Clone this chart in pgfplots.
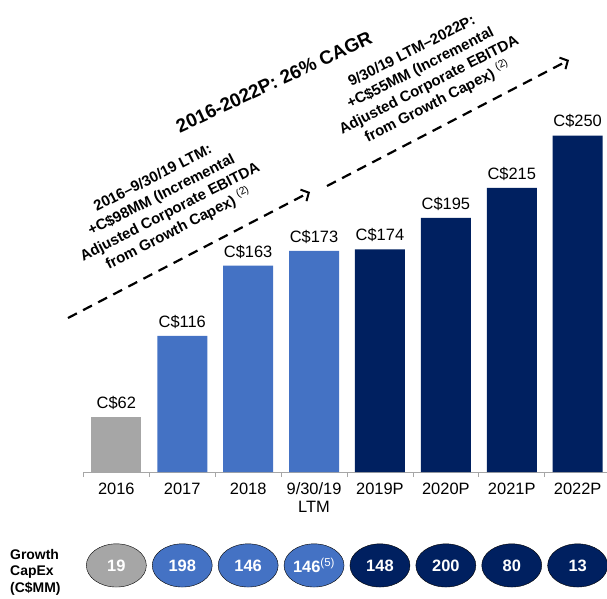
\documentclass[border=0pt]{standalone}
\usepackage{fontspec}
\setmainfont{Liberation Sans}
\usepackage{pgfplots}
\pgfplotsset{compat=1.18}
\usetikzlibrary{arrows.meta}

\definecolor{cgray}{RGB}{166,166,166}
\definecolor{cblue}{RGB}{68,114,196}
\definecolor{cnavy}{RGB}{0,32,96}

\begin{document}
\begin{tikzpicture}
\useasboundingbox (0,0) rectangle (607bp,-599bp);
\begin{axis}[
    at={(83.4bp,-472bp)}, anchor=south west,
    scale only axis, width=527.2bp, height=411.1bp,
    xmin=-0.5, xmax=7.5, ymin=25, ymax=300,
    clip=false,
    /pgf/number format/assume math mode=true,
    axis y line=none, axis x line=bottom,
    x axis line style={-, draw=gray!70, line width=0.8bp},
    xtick={0,...,7},
    xticklabels={2016,2017,2018,{9/30/19\\LTM},2019P,2020P,2021P,2022P},
    xticklabel style={align=center, font=\fontsize{16.5}{18}\selectfont, yshift=-7bp},
    major tick length=0pt,
    minor xtick={-0.5,0.5,...,7.5},
    minor tick length=5bp,
    tick align=outside,
    minor tick style={draw=gray!70, line width=0.8bp},
]
    % bars
    \addplot[ybar, bar width=50bp, bar shift=0pt, fill=cgray, draw=none,
        nodes near coords={C\$\pgfmathprintnumber{\pgfplotspointmeta}},
        nodes near coords style={font=\fontsize{16.5}{18}\selectfont, text=black, yshift=4bp}]
        coordinates {(0,62)};
    \addplot[ybar, bar width=50bp, bar shift=0pt, fill=cblue, draw=none,
        nodes near coords={C\$\pgfmathprintnumber{\pgfplotspointmeta}},
        nodes near coords style={font=\fontsize{16.5}{18}\selectfont, text=black, yshift=4bp}]
        coordinates {(1,116) (2,163) (3,173)};
    \addplot[ybar, bar width=50bp, bar shift=0pt, fill=cnavy, draw=none,
        nodes near coords={C\$\pgfmathprintnumber{\pgfplotspointmeta}},
        nodes near coords style={font=\fontsize{16.5}{18}\selectfont, text=black, yshift=4bp}]
        coordinates {(4,174) (5,195) (6,215) (7,250)};

    % growth capex ovals
    \addplot[only marks, mark=*, mark size=30bp,
        mark options={draw=none, fill=cgray, yscale=0.72},
        point meta=explicit symbolic, nodes near coords,
        nodes near coords style={anchor=center, text=white, font=\bfseries\fontsize{16.5}{18}\selectfont}]
        coordinates {(0,-37.5) [19]};
    \addplot[only marks, mark=*, mark size=30bp,
        mark options={draw=none, fill=cblue, yscale=0.72},
        point meta=explicit symbolic, nodes near coords,
        nodes near coords style={anchor=center, text=white, font=\bfseries\fontsize{16.5}{18}\selectfont}]
        coordinates {(1,-37.5) [198] (2,-37.5) [146] (3,-37.5) [146\textsuperscript{\mdseries(5)}]};
    \addplot[only marks, mark=*, mark size=30bp,
        mark options={draw=none, fill=cnavy, yscale=0.72},
        point meta=explicit symbolic, nodes near coords,
        nodes near coords style={anchor=center, text=white, font=\bfseries\fontsize{16.5}{18}\selectfont}]
        coordinates {(4,-37.5) [148] (5,-37.5) [200] (6,-37.5) [80] (7,-37.5) [13]};
\end{axis}

% growth arrows and notes
\draw[line width=2.2bp, dash pattern=on 10bp off 7bp,
    -{Straight Barb[length=6bp, width=13bp, line width=2bp]}]
    (68bp,-318bp) -- (310bp,-192bp);
\draw[line width=2.2bp, dash pattern=on 10bp off 7bp,
    -{Straight Barb[length=6bp, width=13bp, line width=2bp]}]
    (327bp,-186bp) -- (569bp,-60bp);

\node[rotate=27, align=center, font=\bfseries\fontsize{15}{19}\selectfont] at (166bp,-204bp)
    {2016–9/30/19 LTM:\\+C\$98MM (Incremental\\Adjusted Corporate EBITDA\\from Growth Capex) \textsuperscript{\mdseries(2)}};
\node[rotate=27, align=center, font=\bfseries\fontsize{15}{19}\selectfont] at (425bp,-77bp)
    {9/30/19 LTM–2022P:\\+C\$55MM (Incremental\\Adjusted Corporate EBITDA\\from Growth Capex) \textsuperscript{\mdseries(2)}};
\node[rotate=25, font=\bfseries\fontsize{19}{22}\selectfont] at (274bp,-82bp)
    {2016-2022P: 26\% CAGR};

\node[anchor=north west, align=left, inner sep=0pt, font=\bfseries\fontsize{14}{16.5}\selectfont]
    at (10bp,-549bp) {Growth\\CapEx\\(C\$MM)};
\end{tikzpicture}
\end{document}
